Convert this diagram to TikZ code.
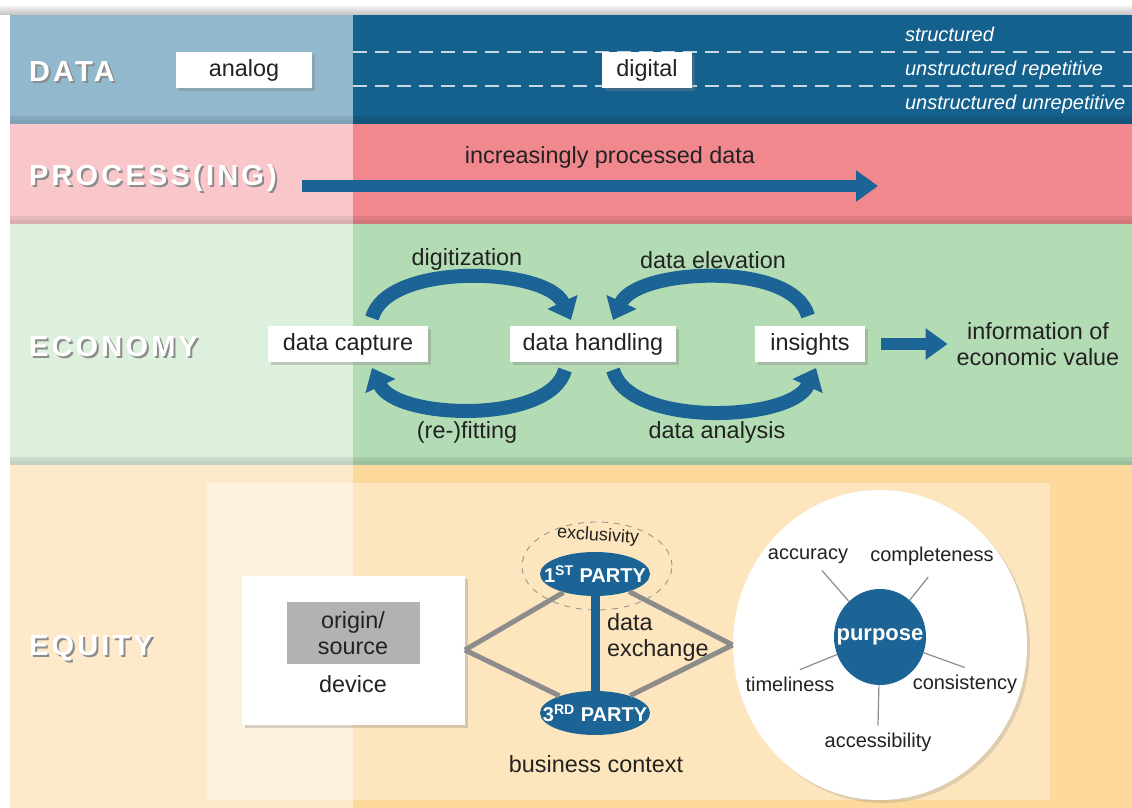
\documentclass[tikz,border=0pt]{standalone}
\usepackage{fontspec}
\setmainfont{Liberation Sans}
\usepackage{tikz}
\usetikzlibrary{arrows.meta,shapes.geometric,shadows,positioning}
\usepackage{xcolor}
\definecolor{datalight}{HTML}{92B8CE}
\definecolor{datadark}{HTML}{15618D}
\definecolor{proclight}{HTML}{F9C6CA}
\definecolor{procdark}{HTML}{F0888D}
\definecolor{ecolight}{HTML}{DDEFDD}
\definecolor{ecodark}{HTML}{B3DCB4}
\definecolor{equlight}{HTML}{FEEACB}
\definecolor{equdark}{HTML}{FDDA9B}
\definecolor{flowblue}{HTML}{1B6495}
\definecolor{ink}{HTML}{222222}
\tikzset{>={Triangle[length=10pt,width=16pt]}}

\begin{document}
\begin{tikzpicture}[x=0.5pt,y=-0.5pt]
        % four bands, pale left part and stronger right part (from x = 353)
        \tikzstyle{every node}=[text=ink, font=\fontsize{11.7}{13}\selectfont]
        \tikzstyle{band label}=[anchor=west, text=white, font=\fontsize{14.5}{16}\selectfont\bfseries\addfontfeature{LetterSpace=11}]
        \tikzstyle{band shadow}=[band label, text=black!45]
        \tikzstyle{stage}=[fill=white, minimum height=15pt, inner xsep=6pt, drop shadow={shadow xshift=1.5pt, shadow yshift=-1.5pt, opacity=0.35}]
        \tikzstyle{kind}=[anchor=west, text=white, font=\fontsize{10}{12}\selectfont\itshape]
        \tikzstyle{fat arrow}=[draw=flowblue, line width=6pt, -{Triangle[length=11pt,width=15pt]}]
        \tikzstyle{loop arrow}=[draw=flowblue, line width=7pt, ->, looseness=0.75]
        \tikzstyle{party}=[ellipse, fill=flowblue, minimum width=55pt, minimum height=22pt, inner sep=0pt]
        \tikzstyle{gray line}=[draw=black!45, line width=2.5pt]
        \tikzstyle{spoke}=[draw=black!45, line width=0.6pt]
        \tikzstyle{quality}=[font=\fontsize{10}{12}\selectfont]

        \useasboundingbox (0,0) rectangle (1132,808);
        \fill[white] (0,0) rectangle (1132,808);
        \shade[top color=white, bottom color=black!25] (0,4) rectangle (1132,15);
        \fill[datalight] (10,15) rectangle (353,124);
        \fill[datadark] (353,15) rectangle (1132,124);
        \fill[proclight] (10,124) rectangle (353,224);
        \fill[procdark] (353,124) rectangle (1132,224);
        \fill[ecolight] (10,224) rectangle (353,465);
        \fill[ecodark] (353,224) rectangle (1132,465);
        \fill[equlight] (10,465) rectangle (353,808);
        \fill[equdark] (353,465) rectangle (1132,808);
        \fill[white, fill opacity=0.35] (207,483) rectangle (1050,800);
        \foreach \yb in {124,224,465} {
                \draw[black, opacity=0.12, line width=2pt] (10,\yb-2) -- (1132,\yb-2);
                \draw[black, opacity=0.08, line width=2pt] (10,\yb-6) -- (1132,\yb-6);
        }

        \foreach \y/\t/\n in {72/DATA/data, 178/PROCESS(ING)/proc, 347/ECONOMY/eco, 648/EQUITY/equ} {
                \node[band shadow] (\n shadow) at (24,{\y+2}) {\t};
                \node[band label] (\n) at (22,\y) {\t};
        }

        % data
        \draw[white!75!datadark, line width=0.9pt, dash pattern=on 7pt off 4pt] (353,52) -- (1132,52);
        \draw[white!75!datadark, line width=0.9pt, dash pattern=on 7pt off 4pt] (353,86) -- (1132,86);
        \node[stage, minimum width=68pt] (analog) at (244,70) {analog};
        \node[stage, minimum width=45pt] (digital) at (647,70) {digital};
        \node[kind] (struct) at (898,34) {structured};
        \node[kind] (unrep) at (898,70) {unstructured repetitive};
        \node[kind] (ununrep) at (898,104) {unstructured unrepetitive};

        % processing
        \coordinate (pstart) at (302,186);
        \coordinate (pend) at (878,186);
        \draw[fat arrow] (pstart) -- (pend);
        \node (incr) at (610,157) {increasingly processed data};

        % economy
        \node[stage, minimum width=80pt] (capture) at (348,344) {data capture};
        \node[stage, minimum width=83pt] (handling) at (593,344) {data handling};
        \node[stage, minimum width=55pt] (insights) at (810,344) {insights};
        \node[align=center] (info) at (1038,344) {information of\\economic value};
        \node (digi) at (467,259) {digitization};
        \node (elev) at (713,260) {data elevation};
        \node (refit) at (467,432) {(re-)fitting};
        \node (anal) at (717,432) {data analysis};
        \draw[loop arrow] ([shift={(12pt,4pt)}]capture.north) to[out=75,in=115] ([shift={(-11pt,3pt)}]handling.north);
        \draw[loop arrow] ([shift={(-14pt,-4pt)}]handling.south) to[out=-105,in=-65] ([shift={(12pt,-3pt)}]capture.south);
        \draw[loop arrow] ([shift={(-1pt,5pt)}]insights.north) to[out=105,in=65] ([shift={(10pt,3pt)}]handling.north);
        \draw[loop arrow] ([shift={(10pt,-4pt)}]handling.south) to[out=-75,in=-115] ([shift={(3pt,-3pt)}]insights.south);
        \draw[fat arrow, shorten <=8pt, shorten >=1pt] (insights.east) -- (info.west);

        % equity
        \node[fill=white, minimum width=111.5pt, minimum height=74.5pt, drop shadow={shadow xshift=1.5pt, shadow yshift=-1.5pt, opacity=0.3}] (device) at (353,650) {};
        \node[fill=black!30, minimum width=66.5pt, minimum height=31pt, align=center] (origin) at (353,633) {origin/\\source};
        \node (devlbl) [below=2pt of origin] {device};

        \node[ellipse, draw=black!45, dashed, minimum width=75pt, minimum height=44pt] (excl) at (597,566) {};
        \node[font=\fontsize{9}{10}\selectfont, rotate=-4] (excllbl) at (598,536) {exclusivity};
        \node[party, label={[text=white, font=\fontsize{10}{12}\selectfont\bfseries]center:1\textsuperscript{ST} PARTY}] (first) at (595,574) {};
        \node[party, label={[text=white, font=\fontsize{10}{12}\selectfont\bfseries]center:3\textsuperscript{RD} PARTY}] (third) at (595,713) {};
        \node[ellipse, fill=white, minimum width=147pt, minimum height=155pt, drop shadow={shadow xshift=1.5pt, shadow yshift=-1.5pt, opacity=0.25}] (scope) at (880,645) {};

        \draw[gray line] (device.east) -- (first);
        \draw[gray line] (device.east) -- (third);
        \draw[gray line] (first) -- (scope.west);
        \draw[gray line] (third) -- (scope.west);
        \draw[draw=flowblue, line width=4.5pt] (first) -- (third);
        \node[anchor=west, align=left] (exch) at (600,637) {data\\exchange};
        \node (biz) at (596,764) {business context};

        \node[ellipse, fill=flowblue, minimum width=46pt, minimum height=48pt, inner sep=0pt, label={[text=white, font=\fontsize{11}{13}\selectfont\bfseries]center:purpose}] (purpose) at (880,637) {};
        \node[quality] (acc) at (808,556) {accuracy};
        \node[quality] (compl) at (932,556) {completeness};
        \node[quality] (time) at (790,684) {timeliness};
        \node[quality] (cons) at (965,684) {consistency};
        \node[quality] (access) at (878,742) {accessibility};
        \draw[spoke] (purpose) -- ([xshift=7pt]acc.south);
        \draw[spoke, shorten >=3pt] (purpose) -- (compl.south);
        \draw[spoke] (purpose) -- ([xshift=5pt]time.north);
        \draw[spoke] (purpose) -- (cons.north);
        \draw[spoke] (purpose) -- (access.north);
\end{tikzpicture}
\end{document}
